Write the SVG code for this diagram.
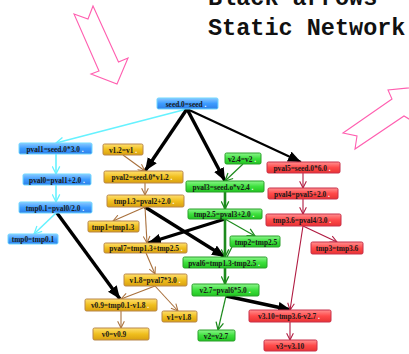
<svg xmlns="http://www.w3.org/2000/svg" width="409" height="354" viewBox="0 0 409 354">
  <style>
    .title { font-family: "Liberation Mono", "Courier New", monospace; font-weight: bold; font-size: 23.5px; fill: #111; }
    .lbl { font-family: "Liberation Serif", "Times New Roman", serif; font-weight: bold; font-size: 7.4px; fill: #1a1a1a; text-anchor: middle; }
    .d { fill: #ffffff; }
    .blue { fill: url(#gBlue); stroke: #70d8ff; stroke-width: 1; }
    .gold { fill: url(#gGold); stroke: #b8864a; stroke-width: 1; }
    .green { fill: url(#gGreen); stroke: #2aa02a; stroke-width: 1; }
    .red { fill: url(#gRed); stroke: #c8304a; stroke-width: 1; }
    .pink { fill: none; stroke: #ff5fb0; stroke-width: 1.1; }
    .e-cyan { stroke: #66f2ff; stroke-width: 1.6; fill: none; marker-end: url(#vCyan); }
    .e-blk { stroke: #000; stroke-width: 3.4; fill: none; marker-end: url(#tBlk); }
    .e-blk2 { stroke: #000; stroke-width: 2.2; fill: none; marker-end: url(#tBlk); }
    .e-brn { stroke: #a8703c; stroke-width: 1.1; fill: none; marker-end: url(#vBrn); }
    .e-grn { stroke: #1d8a1d; stroke-width: 1.2; fill: none; marker-end: url(#vGrn); }
    .e-grnT { stroke: #1d8a1d; stroke-width: 2.6; fill: none; marker-end: url(#vGrn); }
    .e-grnN { stroke: #1d8a1d; stroke-width: 1.2; fill: none; }
    .e-red { stroke: #b01a40; stroke-width: 1.1; fill: none; marker-end: url(#vRed); }
  </style>
  <defs>
    <linearGradient id="gBlue" x1="0" y1="0" x2="0" y2="1">
      <stop offset="0" stop-color="#8ccaff"/>
      <stop offset="0.5" stop-color="#3d9cff"/>
      <stop offset="1" stop-color="#2e80e8"/>
    </linearGradient>
    <linearGradient id="gGold" x1="0" y1="0" x2="0" y2="1">
      <stop offset="0" stop-color="#ffe070"/>
      <stop offset="0.5" stop-color="#f0bf1e"/>
      <stop offset="1" stop-color="#d9a010"/>
    </linearGradient>
    <linearGradient id="gGreen" x1="0" y1="0" x2="0" y2="1">
      <stop offset="0" stop-color="#8cf58c"/>
      <stop offset="0.5" stop-color="#3de03d"/>
      <stop offset="1" stop-color="#22c422"/>
    </linearGradient>
    <linearGradient id="gRed" x1="0" y1="0" x2="0" y2="1">
      <stop offset="0" stop-color="#ff9090"/>
      <stop offset="0.5" stop-color="#ff4a4a"/>
      <stop offset="1" stop-color="#e83434"/>
    </linearGradient>
    <marker id="vCyan" viewBox="0 0 10 10" refX="9.5" refY="5" markerWidth="9" markerHeight="9" markerUnits="userSpaceOnUse" orient="auto">
      <path d="M1,0.8 L9.5,5 L1,9.2" fill="none" stroke="#66f2ff" stroke-width="1.4"/>
    </marker>
    <marker id="vBrn" viewBox="0 0 10 10" refX="9.5" refY="5" markerWidth="8" markerHeight="8" markerUnits="userSpaceOnUse" orient="auto">
      <path d="M1,0.8 L9.5,5 L1,9.2" fill="none" stroke="#a8703c" stroke-width="1.3"/>
    </marker>
    <marker id="vGrn" viewBox="0 0 10 10" refX="9.5" refY="5" markerWidth="9" markerHeight="9" markerUnits="userSpaceOnUse" orient="auto">
      <path d="M1,0.8 L9.5,5 L1,9.2" fill="none" stroke="#1d8a1d" stroke-width="1.4"/>
    </marker>
    <marker id="vRed" viewBox="0 0 10 10" refX="9.5" refY="5" markerWidth="8" markerHeight="8" markerUnits="userSpaceOnUse" orient="auto">
      <path d="M1,0.8 L9.5,5 L1,9.2" fill="none" stroke="#b01a40" stroke-width="1.3"/>
    </marker>
    <marker id="tBlk" viewBox="0 0 12 10" refX="12" refY="5" markerWidth="13" markerHeight="11" markerUnits="userSpaceOnUse" orient="auto">
      <path d="M0,0 L12,5 L0,10 z" fill="#000"/>
    </marker>
  </defs>

  <rect width="409" height="354" fill="#ffffff"/>

  <!-- heading -->
  <text class="title" x="208" y="5">Black arrows -</text>
  <text class="title" x="208" y="35">Static Network</text>

  <!-- outlined pointer arrows -->
  <polygon class="pink" points="74,14 88,19 93,6 118.5,62 128,58 117,84 91,74 99,71"/>
  <polygon class="pink" points="343,133 392,99 388,90 428,86 414,122 404,116 355,149 357,136"/>

  <!-- connectors -->
  <g id="edges">
    <line class="e-cyan" x1="187" y1="109" x2="56" y2="143"/>
    <line class="e-cyan" x1="56" y1="154" x2="56" y2="174"/>
    <line class="e-cyan" x1="56" y1="185" x2="56" y2="202"/>
    <line class="e-cyan" x1="56" y1="213" x2="34" y2="234"/>

    <line class="e-blk" x1="187" y1="109" x2="145" y2="171"/>
    <line class="e-blk" x1="187" y1="109" x2="225" y2="181"/>
    <line class="e-blk2" x1="187" y1="109" x2="301" y2="162"/>
    <line class="e-blk" x1="57" y1="213" x2="120" y2="299"/>
    <line class="e-blk" x1="145" y1="207" x2="225" y2="257"/>
    <line class="e-blk" x1="225" y1="219" x2="148" y2="243"/>
    <line class="e-blk" x1="226" y1="296" x2="291" y2="310"/>

    <line class="e-brn" x1="123" y1="155" x2="145" y2="171"/>
    <line class="e-brn" x1="145" y1="183" x2="145" y2="195"/>
    <line class="e-brn" x1="145" y1="207" x2="113" y2="221"/>
    <line class="e-brn" x1="145" y1="207" x2="147" y2="243"/>
    <line class="e-brn" x1="146" y1="253" x2="155" y2="274"/>
    <line class="e-brn" x1="155" y1="286" x2="121" y2="299"/>
    <line class="e-brn" x1="155" y1="286" x2="178" y2="311"/>
    <line class="e-brn" x1="121" y1="311" x2="121" y2="328"/>

    <line class="e-grn" x1="243" y1="164" x2="225" y2="181"/>
    <line class="e-grnT" x1="225" y1="192" x2="225" y2="209"/>
    <line class="e-grn" x1="225" y1="219" x2="255" y2="236"/>
    <line class="e-grnT" x1="225" y1="219" x2="225" y2="257"/>
    <line class="e-grnN" x1="232" y1="247" x2="227" y2="257"/>
    <line class="e-grnT" x1="225" y1="268" x2="225" y2="284"/>
    <line class="e-grn" x1="226" y1="296" x2="218" y2="330"/>

    <line class="e-red" x1="303" y1="173" x2="303" y2="188"/>
    <line class="e-red" x1="303" y1="199" x2="303" y2="214"/>
    <line class="e-red" x1="303" y1="226" x2="337" y2="242"/>
    <line class="e-red" x1="303" y1="226" x2="290" y2="310"/>
    <line class="e-red" x1="290" y1="322" x2="290" y2="340"/>
  </g>

  <!-- blue chain -->
  <g id="seed0">
    <rect class="blue" x="157" y="98" width="61" height="11" rx="1.5"/>
    <text class="lbl" x="186" y="106.5">seed.0=seed<tspan class="d"> .</tspan></text>
  </g>
  <g id="pval1">
    <rect class="blue" x="19" y="143" width="73" height="11" rx="1.5"/>
    <text class="lbl" x="55" y="151.5">pval1=seed.0*3.0<tspan class="d"> .</tspan></text>
  </g>
  <g id="pval0">
    <rect class="blue" x="23" y="174" width="68" height="11" rx="1.5"/>
    <text class="lbl" x="57" y="182.5">pval0=pval1+2.0<tspan class="d"> .</tspan></text>
  </g>
  <g id="tmp01">
    <rect class="blue" x="19" y="202" width="73" height="11" rx="1.5"/>
    <text class="lbl" x="55" y="210.5">tmp0.1=pval0/2.0<tspan class="d"> .</tspan></text>
  </g>
  <g id="tmp0">
    <rect class="blue" x="8" y="234" width="50" height="10" rx="1.5"/>
    <text class="lbl" x="33" y="242">tmp0=tmp0.1</text>
  </g>

  <!-- gold chain -->
  <g id="v12">
    <rect class="gold" x="103" y="144" width="40" height="11" rx="1.5"/>
    <text class="lbl" x="123" y="152.5">v1.2=v1<tspan class="d"> .</tspan></text>
  </g>
  <g id="pval2">
    <rect class="gold" x="104" y="171" width="79" height="12" rx="1.5"/>
    <text class="lbl" x="142" y="179.5">pval2=seed.0*v1.2<tspan class="d"> .</tspan></text>
  </g>
  <g id="tmp13">
    <rect class="gold" x="107" y="195" width="77" height="12" rx="1.5"/>
    <text class="lbl" x="144" y="203.5">tmp1.3=pval2+2.0<tspan class="d"> .</tspan></text>
  </g>
  <g id="tmp1">
    <rect class="gold" x="88" y="221" width="51" height="11" rx="1.5"/>
    <text class="lbl" x="113" y="229.5">tmp1=tmp1.3</text>
  </g>
  <g id="pval7">
    <rect class="gold" x="104" y="243" width="83" height="10" rx="1.5"/>
    <text class="lbl" x="146" y="251">pval7=tmp1.3+tmp2.5<tspan class="d"> .</tspan></text>
  </g>
  <g id="v18">
    <rect class="gold" x="124" y="274" width="63" height="12" rx="1.5"/>
    <text class="lbl" x="155" y="282.5">v1.8=pval7*3.0<tspan class="d"> .</tspan></text>
  </g>
  <g id="v09">
    <rect class="gold" x="85" y="299" width="72" height="12" rx="1.5"/>
    <text class="lbl" x="120" y="307.5">v0.9=tmp0.1-v1.8<tspan class="d"> .</tspan></text>
  </g>
  <g id="v1">
    <rect class="gold" x="162" y="311" width="35" height="11" rx="1.5"/>
    <text class="lbl" x="179" y="319.5">v1=v1.8</text>
  </g>
  <g id="v0">
    <rect class="gold" x="93" y="328" width="56" height="12" rx="1.5"/>
    <text class="lbl" x="114" y="336.5">v0=v0.9</text>
  </g>

  <!-- green chain -->
  <g id="v24">
    <rect class="green" x="225" y="153" width="36" height="11" rx="1.5"/>
    <text class="lbl" x="242" y="161.5">v2.4=v2<tspan class="d"> .</tspan></text>
  </g>
  <g id="pval3">
    <rect class="green" x="186" y="181" width="78" height="11" rx="1.5"/>
    <text class="lbl" x="223" y="189.5">pval3=seed.o*v2.4<tspan class="d"> .</tspan></text>
  </g>
  <g id="tmp25">
    <rect class="green" x="188" y="209" width="74" height="10" rx="1.5"/>
    <text class="lbl" x="224" y="217">tmp2.5=pval3+2.0<tspan class="d"> .</tspan></text>
  </g>
  <g id="tmp2">
    <rect class="green" x="230" y="236" width="50" height="11" rx="1.5"/>
    <text class="lbl" x="256" y="244.5">tmp2=tmp2.5</text>
  </g>
  <g id="pval6">
    <rect class="green" x="183" y="257" width="84" height="11" rx="1.5"/>
    <text class="lbl" x="224" y="265.5">pval6=tmp1.3-tmp2.5<tspan class="d"> .</tspan></text>
  </g>
  <g id="v27">
    <rect class="green" x="192" y="284" width="67" height="12" rx="1.5"/>
    <text class="lbl" x="225" y="292.5">v2.7=pval6*5.0<tspan class="d"> .</tspan></text>
  </g>
  <g id="v2">
    <rect class="green" x="198" y="330" width="37" height="11" rx="1.5"/>
    <text class="lbl" x="216" y="338.5">v2=v2.7</text>
  </g>

  <!-- red chain -->
  <g id="pval5">
    <rect class="red" x="267" y="162" width="73" height="11" rx="1.5"/>
    <text class="lbl" x="302" y="170.5">pval5=seed.0*6.0<tspan class="d"> .</tspan></text>
  </g>
  <g id="pval4">
    <rect class="red" x="268" y="188" width="70" height="11" rx="1.5"/>
    <text class="lbl" x="302" y="196.5">pval4=pval5+2.0<tspan class="d"> .</tspan></text>
  </g>
  <g id="tmp36">
    <rect class="red" x="266" y="214" width="75" height="12" rx="1.5"/>
    <text class="lbl" x="302" y="222.5">tmp3.6=pval4/3.0<tspan class="d"> .</tspan></text>
  </g>
  <g id="tmp3">
    <rect class="red" x="311" y="242" width="52" height="12" rx="1.5"/>
    <text class="lbl" x="337" y="250.5">tmp3=tmp3.6</text>
  </g>
  <g id="v310">
    <rect class="red" x="249" y="310" width="82" height="12" rx="1.5"/>
    <text class="lbl" x="289" y="318.5">v3.10=tmp3.6-v2.7<tspan class="d"> .</tspan></text>
  </g>
  <g id="v3">
    <rect class="red" x="264" y="340" width="53" height="11" rx="1.5"/>
    <text class="lbl" x="290" y="348.5">v3=v3.10</text>
  </g>
</svg>
